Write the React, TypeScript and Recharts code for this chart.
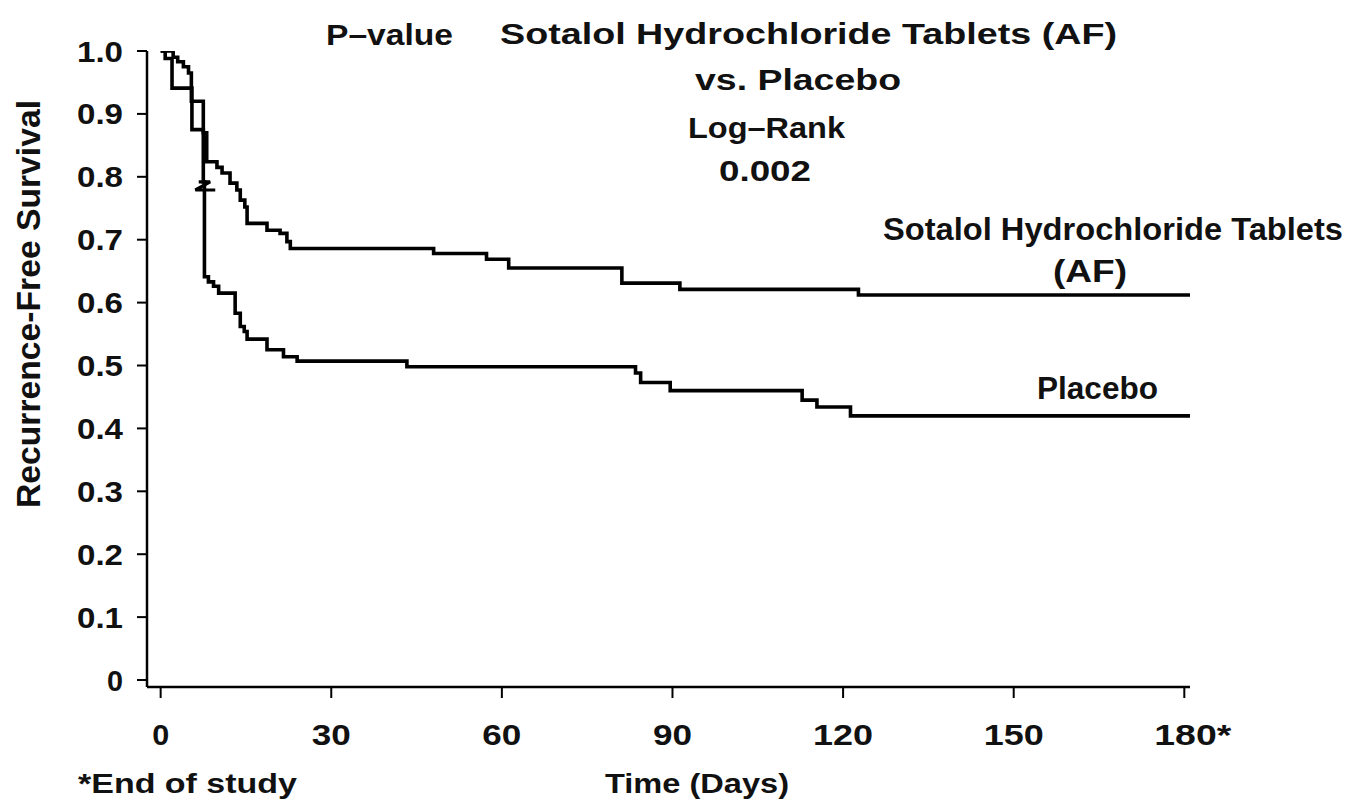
import React from "react";
import { LineChart, Line, XAxis, YAxis } from "recharts";

// ---------- data ----------
const sotalolDays = [0, 2.2, 3.0, 4.0, 4.9, 5.4, 7.5, 8.1, 9.9, 10.8, 12.2, 13.4, 14.0, 14.8, 15.2, 18.7, 21.0, 22.2, 22.8, 48.0, 57.3, 61.2, 81.1, 91.3, 122.7, 181];
const sotalolSurvival = [1.0, 0.99, 0.983, 0.975, 0.965, 0.92, 0.87, 0.824, 0.815, 0.806, 0.79, 0.779, 0.763, 0.752, 0.726, 0.715, 0.71, 0.697, 0.686, 0.678, 0.669, 0.655, 0.631, 0.621, 0.612, 0.612];

const placeboDays = [0, 0.8, 2.0, 5.5, 7.5, 7.7, 8.4, 9.3, 10.2, 13.1, 14.0, 14.7, 15.2, 18.7, 21.6, 24.0, 43.3, 83.5, 84.4, 89.6, 112.8, 115.4, 121.3, 181];
const placeboSurvival = [1.0, 0.988, 0.941, 0.875, 0.792, 0.641, 0.633, 0.626, 0.615, 0.583, 0.562, 0.554, 0.542, 0.525, 0.514, 0.507, 0.498, 0.488, 0.473, 0.46, 0.445, 0.434, 0.42, 0.42];

// small censor-like mark on the placebo curve
const placeboMarkDays = [6.7, 8.7, 6.1, 9.6];
const placeboMarkSurvival = [0.792, 0.792, 0.779, 0.779];

const xTicks = [0, 30, 60, 90, 120, 150, 180];
const xTickLabels = ["0", "30", "60", "90", "120", "150", "180*"];
const yTicks = [0, 0.1, 0.2, 0.3, 0.4, 0.5, 0.6, 0.7, 0.8, 0.9, 1.0];
const yTickLabels = ["0", "0.1", "0.2", "0.3", "0.4", "0.5", "0.6", "0.7", "0.8", "0.9", "1.0"];

const sotalolData = sotalolDays.map((d, i) => ({ day: d, v: sotalolSurvival[i] }));
const placeboData = placeboDays.map((d, i) => ({ day: d, v: placeboSurvival[i] }));
const markData = placeboMarkDays.map((d, i) => ({ day: d, v: placeboMarkSurvival[i] }));

const FONT = '"Liberation Sans", Arial, Helvetica, sans-serif';
const INK = "#111";

function XTick(props: any) {
  const { x, y, payload } = props;
  const idx = xTicks.indexOf(payload.value);
  const label = idx >= 0 ? xTickLabels[idx] : String(payload.value);
  const hasStar = label.endsWith("*");
  const digits = hasStar ? label.length - 1 : label.length;
  const w = digits === 1 ? 17 : digits === 2 ? 39 : 60;
  if (hasStar) {
    return (
      <text x={x - w / 2} y={y + 45} fontFamily={FONT} fontWeight={700} fontSize={30} fill={INK}
        textAnchor="start" textLength={w + 17} lengthAdjust="spacingAndGlyphs">{label}</text>
    );
  }
  return (
    <text x={x} y={y + 45} fontFamily={FONT} fontWeight={700} fontSize={30} fill={INK}
      textAnchor="middle" textLength={w} lengthAdjust="spacingAndGlyphs">{label}</text>
  );
}

function YTick(props: any) {
  const { x, y, payload } = props;
  const idx = yTicks.findIndex((t) => Math.abs(t - payload.value) < 1e-6);
  const label = idx >= 0 ? yTickLabels[idx] : String(payload.value);
  const w = label.length === 1 ? 16 : 46;
  return (
    <text x={x - 12} y={y + 10.5} fontFamily={FONT} fontWeight={700} fontSize={29} fill={INK}
      textAnchor="end" textLength={w} lengthAdjust="spacingAndGlyphs">{label}</text>
  );
}

function Txt({ x, y, w, s = 30, children }: any) {
  return (
    <text x={x} y={y} fontFamily={FONT} fontWeight={700} fontSize={s} fill={INK}
      textAnchor="middle" textLength={w} lengthAdjust="spacingAndGlyphs">{children}</text>
  );
}

export default function App() {
  return (
    <div style={{ position: "absolute", left: 0, top: 0, width: 1351, height: 804, background: "#fff" }}>
      <LineChart width={1351} height={804} margin={{ top: 51, right: 161, bottom: 87, left: 87 }}>
        <XAxis
          type="number"
          dataKey="day"
          domain={[-2.4, 181]}
          ticks={xTicks}
          interval={0}
          allowDataOverflow
          height={30}
          tickSize={11}
          axisLine={{ stroke: "#000", strokeWidth: 2.5 }}
          tickLine={{ stroke: "#000", strokeWidth: 2 }}
          tick={(p: any) => <XTick {...p} />}
        />
        <YAxis
          type="number"
          domain={[-0.0111, 1]}
          ticks={yTicks}
          interval={0}
          allowDataOverflow
          width={60}
          tickSize={10}
          axisLine={{ stroke: "#000", strokeWidth: 2.5 }}
          tickLine={{ stroke: "#000", strokeWidth: 2 }}
          tick={(p: any) => <YTick {...p} />}
        />
        <Line data={sotalolData} dataKey="v" type="stepAfter" stroke="#000" strokeWidth={3.6} dot={false} isAnimationActive={false} />
        <Line data={placeboData} dataKey="v" type="stepAfter" stroke="#000" strokeWidth={3.6} dot={false} isAnimationActive={false} />
        <Line data={markData} dataKey="v" type="linear" stroke="#000" strokeWidth={3.2} dot={false} isAnimationActive={false} />
      </LineChart>
      <svg width={1351} height={804} style={{ position: "absolute", left: 0, top: 0, pointerEvents: "none" }}>
        <Txt x={389.5} y={45} w={127}>P–value</Txt>
        <Txt x={808.5} y={44} w={617}>Sotalol Hydrochloride Tablets (AF)</Txt>
        <Txt x={798} y={90} w={206}>vs. Placebo</Txt>
        <Txt x={766.5} y={138} w={157}>Log–Rank</Txt>
        <Txt x={765} y={181} w={92}>0.002</Txt>
        <Txt x={1113} y={240} w={460} s={32}>Sotalol Hydrochloride Tablets</Txt>
        <Txt x={1090} y={282} w={74} s={32}>(AF)</Txt>
        <Txt x={1097.5} y={399} w={121} s={32}>Placebo</Txt>
        <Txt x={697} y={793} w={184} s={28}>Time (Days)</Txt>
        <Txt x={187.5} y={793} w={219} s={28}>*End of study</Txt>
        <text x={40} y={304} transform="rotate(-90, 40, 304)" fontFamily={FONT} fontWeight={700} fontSize={33}
          fill={INK} textAnchor="middle" textLength={408} lengthAdjust="spacingAndGlyphs">Recurrence-Free Survival</text>
      </svg>
    </div>
  );
}
